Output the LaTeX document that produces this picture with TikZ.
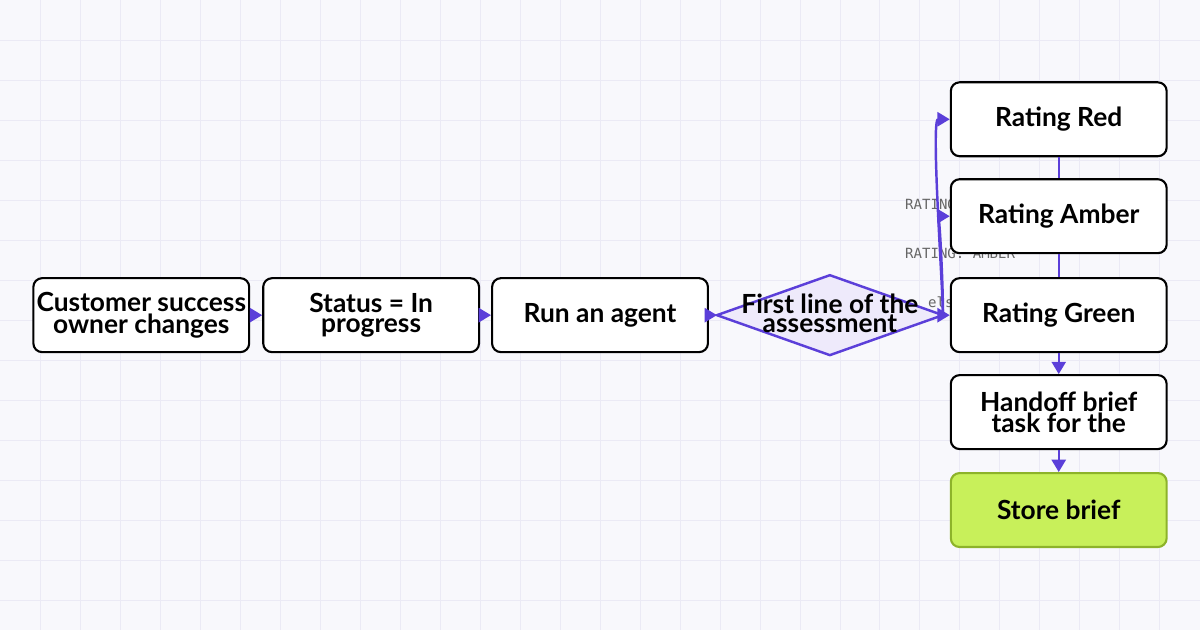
\documentclass[tikz,border=0pt]{standalone}
\usepackage{fontspec}
\setmainfont{Lato}
\setmonofont{DejaVu Sans Mono}
\usetikzlibrary{arrows.meta}
\definecolor{edge}{HTML}{5B3FD9}
\definecolor{gridc}{HTML}{EBEAF5}
\definecolor{paper}{HTML}{F8F8FC}
\definecolor{dfill}{HTML}{EEEAFB}
\definecolor{storefill}{HTML}{C8F05A}
\definecolor{storeline}{HTML}{8DB32A}
\tikzset{
  box/.style={draw=black, line width=1.2pt, rounded corners=5pt, fill=white,
    minimum width=4.32cm, minimum height=1.48cm, align=center, inner sep=0pt,
    font=\bfseries\fontsize{15}{11}\selectfont},
  flow/.style={draw=edge, line width=1.4pt, -{Triangle[length=7pt,width=8pt]}},
  tag/.style={font=\ttfamily\fontsize{8}{8}\selectfont, text=gray!80!black, anchor=west, inner sep=0pt}
}
\begin{document}
\begin{tikzpicture}[x=0.02cm,y=-0.02cm]
		\fill[paper] (0,0) rectangle (1200,630);
		\foreach \g in {40,80,...,1160} \draw[gridc, line width=0.4pt] (\g,0) -- (\g,630);
		\foreach \g in {40,80,...,600} \draw[gridc, line width=0.4pt] (0,\g) -- (1200,\g);
		\useasboundingbox (0,0) rectangle (1200,630);
		%
		\node[tag] (tagred) at (905,204) {RATING: RED};
		\node[tag] (tagamber) at (905,253) {RATING: AMBER};
		\node[tag] (tagelse) at (928,302) {else};
		%
		\node[box] (owner) at (141,315) {Customer success\\owner changes};
		\node[box] (status) at (371,315) {Status = In\\progress};
		\node[box] (agent) at (600,315) {Run an agent};
		\coordinate (assessW) at (717,315);
		\coordinate (assessE) at (943,315);
		\draw[draw=edge, line width=1.4pt, fill=dfill] (assessW) -- (830,275) -- (assessE) -- (830,355) -- cycle;
		\node[align=center, font=\bfseries\fontsize{15}{11}\selectfont] (assess) at (830,313) {First line of the\\assessment};
		\node[box] (red) at (1059,119) {Rating Red};
		\node[box] (amber) at (1059,216) {Rating Amber};
		\node[box] (green) at (1059,315) {Rating Green};
		\node[box] (brief) at (1059,412) {Handoff brief\\task for the};
		\node[box, draw=storeline, fill=storefill] (store) at (1059,510) {Store brief};
		%
		\draw[flow] (assessE) to[out=88,in=180,looseness=0.25] (red.west);
		\draw[flow] (assessE) to[out=85,in=180,looseness=0.25] (amber.west);
		\draw[flow] (owner) -- (status);
		\draw[flow] (status) -- (agent);
		\draw[flow] (agent) -- (assessW);
		\draw[flow] (assessE) -- (green.west);
		\draw[draw=edge, line width=1.4pt] (red) -- (amber);
		\draw[draw=edge, line width=1.4pt] (amber) -- (green);
		\draw[flow] (green) -- (brief);
		\draw[flow] (brief) -- (store);
	\end{tikzpicture}
\end{document}
